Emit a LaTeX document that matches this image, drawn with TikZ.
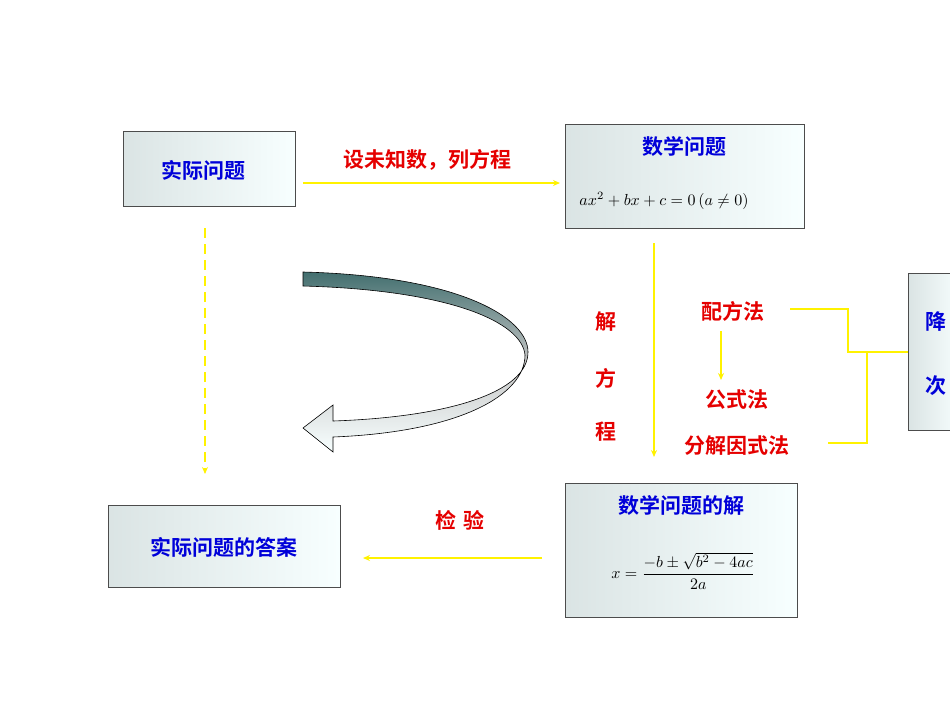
\documentclass[tikz,border=0pt]{standalone}
\usepackage{fontspec}
\usepackage{graphicx}
\newfontfamily\cjk{Noto Sans CJK SC}[BoldFont={Noto Sans CJK SC Bold}]
\usetikzlibrary{arrows.meta}
\begin{document}
\begin{tikzpicture}[x=1pt,y=-1pt,
  box/.style={draw=black!70,line width=0.6pt,left color=cyan!15!gray!25!white,right color=cyan!3!white},
  blue/.style={text=blue!85!black,font=\cjk\bfseries\fontsize{21}{24}\selectfont},
  red/.style={text=red!90!black,font=\cjk\bfseries\fontsize{21}{24}\selectfont},
  yl/.style={draw=yellow,line width=2pt},
  ya/.style={yl,-{Stealth[length=7pt,width=6pt]}}]
\useasboundingbox (0,0) rectangle (950,713);
\fill[white] (0,0) rectangle (950,713);
\draw[box] (123,131) rectangle (295,206);
\node[blue] (q) at (203,170) {实际问题};
\draw[box] (565,124) rectangle (804,228);
\node[blue] (m) at (684,146) {数学问题};
\node (mf) at (664,201) {\scalebox{1.6}{$ax^2+bx+c=0\,(a\neq0)$}};
\draw[box] (108,505) rectangle (340,587);
\node[blue] (ans) at (224,547) {实际问题的答案};
\draw[box] (565,483) rectangle (797,617);
\node[blue] (sol) at (681,505) {数学问题的解};
\node (sf) at (683,571) {\scalebox{1.6}{$\displaystyle x=\frac{-b\pm\sqrt{b^2-4ac}}{2a}$}};
\draw[box] (908,273) rectangle (962,430);
\node[blue] (j) at (936,322) {降};
\node[blue] (c) at (936,386) {次};
\coordinate (a1) at (303,183); \coordinate (a2) at (560,183);
\draw[ya] (a1) -- (a2);
\node[red] (l1) at (427,160) {设未知数，列方程};
\coordinate (d1) at (205,228); \coordinate (d2) at (205,474);
\draw[ya,dashed,dash pattern=on 10pt off 6pt] (d1) -- (d2);
\coordinate (v1) at (654,243); \coordinate (v2) at (654,457);
\draw[ya] (v1) -- (v2);
\node[red] at (606,322) {解};
\node[red] at (606,378) {方};
\node[red] at (606,432) {程};
\node[red] (p) at (733,311) {配方法};
\node[red] (g) at (737,400) {公式法};
\node[red] (f) at (737,446) {分解因式法};
\coordinate (p1) at (721,331); \coordinate (p2) at (721,380);
\draw[ya] (p1) -- (p2);
\draw[yl] (790,309) -- (848,309) -- (848,352) -- (908,352);
\draw[yl] (828,443) -- (867,443) -- (867,352);
\node[red] (jy) at (460,520) {检\,\,验};
\coordinate (b1) at (542,558); \coordinate (b2) at (363,558);
\draw[ya] (b1) -- (b2);
\draw[draw=black,line width=0.6pt,top color=gray!75!cyan!70!black,bottom color=cyan!3!white,middle color=gray!45]
 (303,272) .. controls (460,276) and (528,318) .. (528,352)
 .. controls (528,392) and (450,417) .. (333,421) -- (333,405) -- (303,428) -- (333,452) -- (333,437)
 .. controls (460,432) and (525,395) .. (525,355)
 .. controls (522,322) and (450,290) .. (303,286) -- cycle;
\end{tikzpicture}
\end{document}
